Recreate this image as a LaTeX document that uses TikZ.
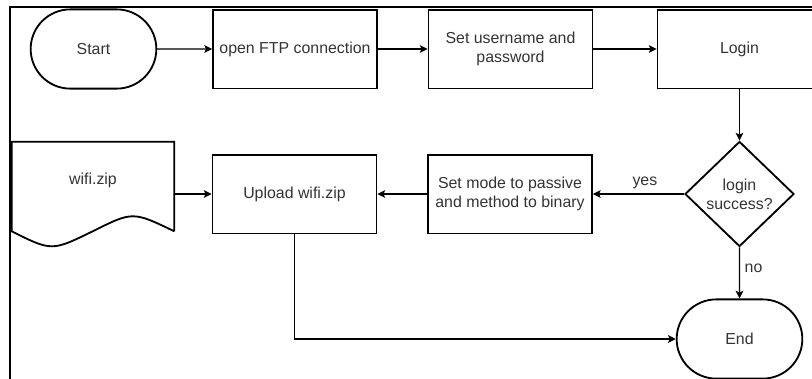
\documentclass[tikz,border=0pt]{standalone}
\usepackage{fontspec}
\setmainfont{Liberation Sans}
\usetikzlibrary{shapes.geometric,shapes.misc,arrows.meta}

\begin{document}
\begin{tikzpicture}[x=0.025cm,y=-0.025cm,
  every node/.style={font=\fontsize{11.3}{13.6}\selectfont,text=black!80},
  box/.style={shape=rectangle,draw=black,line width=1.3pt,minimum width=4.1cm,minimum height=1.97cm,inner sep=2pt,align=center},
  term/.style={shape=rounded rectangle,draw=black,line width=1.3pt,minimum width=3.375cm,minimum height=1.98cm},
  decision/.style={shape=diamond,draw=black,line width=1.3pt,minimum width=2.725cm,minimum height=2.625cm,inner sep=0pt,align=center},
  docbox/.style={shape=rectangle,minimum width=4.05cm,minimum height=2.6cm,inner sep=0pt},
  flow/.style={draw=black,line width=0.75pt,-{Stealth[length=5.5pt,width=5.5pt,inset=1.2pt]}}]
  \useasboundingbox (0,0) rectangle (812,378);
  \clip (0,0) rectangle (812,378);
  % frame of the screenshot
  \draw[line width=1.5pt] (10,400) -- (10,7) -- (830,7);

  \node[term] (start) at (93.5,49) {Start};
  \node[box] (ftp) at (295,49) {open FTP connection};
  \node[box] (user) at (510.5,49) {Set username and\\password};
  \node[box] (login) at (739.5,49) {Login};
  \node[decision] (dec) at (739.5,194) {login\\success?};
  \node[box] (mode) at (510,194) {Set mode to passive\\and method to binary};
  \node[box] (upload) at (294.5,194) {Upload wifi.zip};
  \node[docbox] (wifi) at (93,194) {};
  \node (wifilabel) at ([yshift=0.35cm]wifi.center) {wifi.zip};
  \node[term] (end) at (739.5,339) {End};

  \draw[line width=1.3pt] ([yshift=0.375cm]wifi.south east) -- (wifi.north east) -- (wifi.north west) -- ([yshift=0.375cm]wifi.south west)
    .. controls ([xshift=1cm,yshift=-0.125cm]wifi.south west) .. ([xshift=2.025cm,yshift=0.375cm]wifi.south west)
    .. controls ([xshift=3.025cm,yshift=0.875cm]wifi.south west) .. ([yshift=0.375cm]wifi.south east);

  \path (start) edge[flow] (ftp);
  \path (ftp) edge[flow] (user);
  \path (user) edge[flow] (login);
  \path (login) edge[flow] (dec);
  \path (dec) edge[flow] node[above,pos=0.43] {yes} (mode);
  \path (mode) edge[flow] (upload);
  \path (wifi) edge[flow] (upload);
  \path (dec) edge[flow] node[right,pos=0.4] {no} (end);
  \draw[flow] (upload) |- (end);
\end{tikzpicture}
\end{document}
